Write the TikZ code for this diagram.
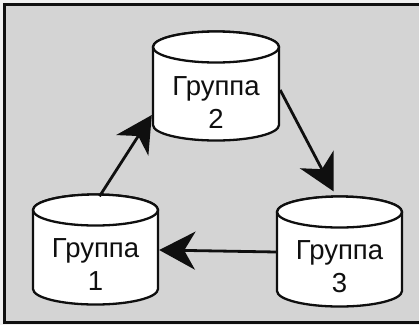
\documentclass[tikz,border=0pt]{standalone}
\usepackage{fontspec}
\setmainfont{Liberation Sans}
\usetikzlibrary{arrows.meta,calc}
\definecolor{bgout}{RGB}{240,240,240}
\definecolor{bgin}{RGB}{212,212,212}
\definecolor{ink}{RGB}{15,15,15}
\tikzset{
  cylbody/.style={draw=ink, line width=2.3pt, fill=white},
  cylbox/.style={draw=none, inner sep=0pt, minimum width=#1},
  lbl/.style={font=\fontsize{27.5}{33}\selectfont, align=center, inner sep=0pt, text=ink},
  flow/.style={draw=ink, line width=2.8pt, -{Stealth[length=36pt,width=38pt,inset=11pt]}},
}
\newcommand\mycyl[5]{% cx, top centre y, bottom centre y, rx, ry
  \filldraw[cylbody] (#1-#4,#2) -- (#1-#4,#3)
    arc[start angle=180,end angle=0,x radius=#4,y radius=#5]
    -- (#1+#4,#2)
    arc[start angle=0,end angle=-180,x radius=#4,y radius=#5] -- cycle;
  \draw[cylbody] (#1,#2) ellipse[x radius=#4,y radius=#5];
}
\begin{document}
\begin{tikzpicture}[x=1pt,y=-1pt]
\useasboundingbox (0,0) rectangle (419,325);
\fill[bgout] (0,0) rectangle (419,325);
\begin{scope}
\clip (0,0) rectangle (419,325);
\filldraw[fill=bgin, draw=ink, line width=3pt] (4.5,4.5) rectangle (430,322.5);
\end{scope}
% cylinders
\mycyl{216}{47}{125}{63}{15.5}
\mycyl{95.5}{210}{289}{62.5}{15.5}
\mycyl{339.5}{212}{291}{62.5}{15.5}
% named boxes covering cylinders
\node[cylbox=126pt, minimum height=108pt] (g2) at (216,86) {};
\node[cylbox=125pt, minimum height=110pt] (g1) at (95.5,249.5) {};
\node[cylbox=125pt, minimum height=110pt] (g3) at (339.5,251.5) {};
% labels
\node[lbl] (t2) at (216,103) {Группа\\2};
\node[lbl] (t1) at (95.5,265) {Группа\\1};
\node[lbl] (t3) at (339.5,267) {Группа\\3};
% connectors
\draw[flow] ($(g1.north)+(4,2)$) -- ($(g2.west)+(-1,29)$);
\draw[flow] ($(g2.east)+(1,4)$) -- ($(g3.north)+(-6,-5)$);
\draw[flow] ($(g3.west)+(0,0.5)$) -- ($(g1.east)+(1,0.5)$);
\end{tikzpicture}
\end{document}
